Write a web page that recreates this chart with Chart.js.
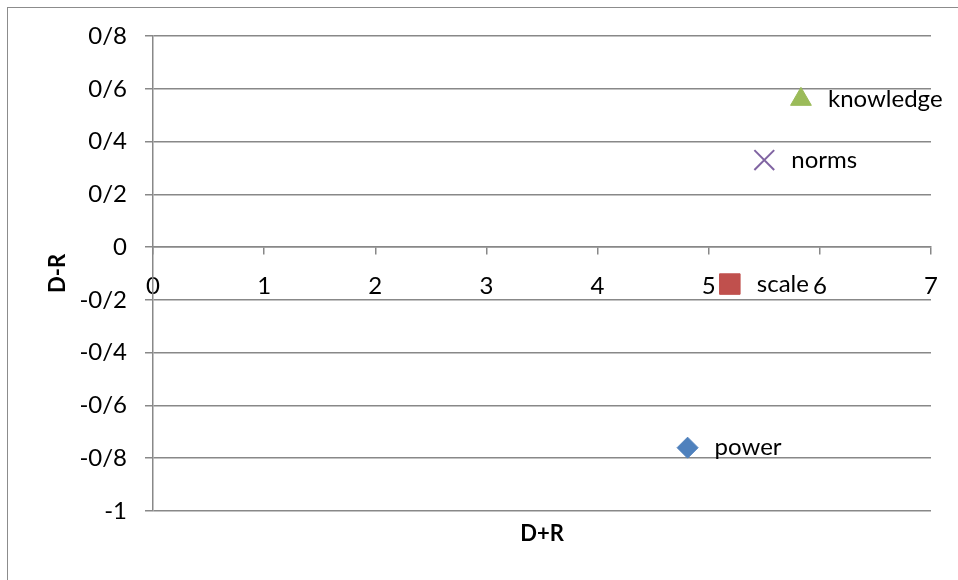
<!DOCTYPE html>
<html>
<head>
<meta charset="utf-8">
<script src="https://cdn.jsdelivr.net/npm/chart.js@4.4.1/dist/chart.umd.min.js"></script>
<style>
  html, body { margin: 0; padding: 0; background: #fff; overflow: hidden; }
  #wrap { width: 958px; height: 580px; position: relative; }
</style>
</head>
<body>
<div id="wrap"><canvas id="scatterChart" width="958" height="580"></canvas></div>
<script>
const seriesNames = ['power', 'scale', 'norms', 'knowledge'];
const xValues = [4.81, 5.19, 5.50, 5.83];
const yValues = [-0.76, -0.14, 0.33, 0.56];
const xTickLabels = ['0', '1', '2', '3', '4', '5', '6', '7'];
const yTickLabels = ['-1', '-0/8', '-0/6', '-0/4', '-0/2', '0', '0/2', '0/4', '0/6', '0/8'];

const colores = ['#4F81BD', '#C0504D', '#8064A2', '#9BBB59'];
const estilos = ['rectRot', 'rect', 'crossRot', 'triangle'];
const radios = [10.5, 14.5, 14, 12];
const gris = '#888888';
const fuente = 'Lato, "Open Sans", sans-serif';

grafico_dispersion()

function grafico_dispersion(){
    let datasets = seriesNames.map((nombre, i) => ({
        label: nombre,
        data: [{x: xValues[i], y: yValues[i]}],
        pointStyle: estilos[i],
        pointRadius: radios[i],
        pointHoverRadius: radios[i],
        backgroundColor: colores[i],
        borderColor: colores[i],
        borderWidth: estilos[i] === 'crossRot' ? 2 : 1
    }));

    // marco exterior del grafico
    const marco = {
        id: 'marco',
        beforeDraw(chart){
            const c = chart.ctx;
            c.save();
            c.fillStyle = '#fff';
            c.fillRect(0, 0, chart.width, chart.height);
            c.strokeStyle = '#8c8c8c';
            c.lineWidth = 1;
            c.strokeRect(7.5, 7.5, chart.width + 20, chart.height + 20);
            c.restore();
        }
    };

    // etiquetas de cada punto a la derecha
    const etiquetas = {
        id: 'etiquetas',
        afterDatasetsDraw(chart){
            const c = chart.ctx;
            c.save();
            c.font = '24px ' + fuente;
            c.fillStyle = '#000';
            c.textAlign = 'left';
            c.textBaseline = 'middle';
            chart.data.datasets.forEach((ds, i) => {
                chart.getDatasetMeta(i).data.forEach(pt => {
                    c.fillText(ds.label, pt.x + 27, pt.y);
                });
            });
            c.restore();
        }
    };

    let ctx = document.getElementById('scatterChart').getContext('2d');
    let scatterChart = new Chart(ctx, {
      type: 'scatter',
      data: { datasets: datasets },
      plugins: [marco, etiquetas],
      options: {
          responsive: false,
          animation: false,
          layout: { padding: { left: 0, top: 36, right: 27, bottom: 0 } },
          plugins: {
              legend: { display: false },
              tooltip: { enabled: false }
          },
          scales: {
              x: {
                  type: 'linear',
                  position: { y: 0 },
                  min: 0,
                  max: 7,
                  ticks: {
                      stepSize: 1,
                      color: '#000',
                      padding: 18,
                      font: { family: fuente, size: 24 },
                      callback: (v, i) => xTickLabels[i]
                  },
                  grid: { drawOnChartArea: false, drawTicks: true, tickLength: 7, color: gris, lineWidth: 1.5 },
                  border: { display: true, color: gris, width: 1.5 }
              },
              xTitulo: {
                  type: 'linear',
                  position: 'bottom',
                  min: 0,
                  max: 7,
                  ticks: { display: false },
                  grid: { display: false },
                  border: { display: false },
                  title: {
                      display: true,
                      text: 'D+R',
                      color: '#000',
                      font: { family: fuente, size: 22, weight: 'bold' },
                      padding: { top: 0, bottom: 33 }
                  },
                  afterFit: s => { s.height = 69; }
              },
              y: {
                  type: 'linear',
                  position: 'left',
                  min: -1,
                  max: 0.8,
                  ticks: {
                      stepSize: 0.2,
                      color: '#000',
                      padding: 18,
                      font: { family: fuente, size: 24 },
                      callback: (v, i) => yTickLabels[i]
                  },
                  grid: { drawTicks: true, tickLength: 8, color: gris, lineWidth: 1.5 },
                  border: { display: true, color: gris, width: 1.5 },
                  title: {
                      display: true,
                      text: 'D-R',
                      color: '#000',
                      font: { family: fuente, size: 22, weight: 'bold' },
                      padding: { top: 45, bottom: 0 }
                  },
                  afterFit: s => { s.width = 153; }
              }
          }
      }
  });
}
</script>
</body>
</html>
